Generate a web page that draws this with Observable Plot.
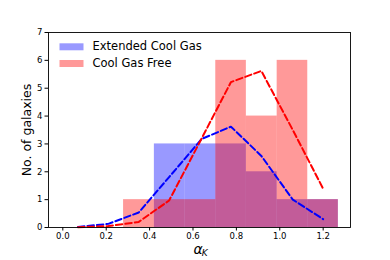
<!DOCTYPE html>
<html>
<head>
<meta charset="utf-8">
<script src="https://cdn.jsdelivr.net/npm/d3@7"></script>
<script src="https://cdn.jsdelivr.net/npm/@observablehq/plot@0.6"></script>
<style>
  html, body { margin: 0; padding: 0; background: #fff; }
  #chart svg { display: block; }
</style>
</head>
<body>
<div id="chart"></div>
<script>
// Histogram bin edges (alpha_K)
const binEdges = [0.28, 0.422, 0.563, 0.705, 0.846, 0.988, 1.129, 1.27];
// Counts per bin
const extendedCounts = [0, 3, 3, 3, 2, 1, 1];
const freeCounts = [1, 1, 1, 6, 4, 6, 1];
// Dashed curve sample points
const curveX = [0.07, 0.21, 0.35, 0.49, 0.64, 0.775, 0.915, 1.06, 1.2];
const extendedCurve = [0.02, 0.13, 0.54, 1.81, 3.18, 3.62, 2.57, 1.0, 0.3];
const freeCurve = [0.01, 0.05, 0.2, 0.97, 3.2, 5.22, 5.62, 3.5, 1.39];
// Tick values
const xTicks = [0, 0.2, 0.4, 0.6, 0.8, 1.0, 1.2];
const yTicks = [0, 1, 2, 3, 4, 5, 6, 7];
// Series labels and colours
const seriesNames = ["Extended Cool Gas", "Cool Gas Free"];
const seriesColors = ["#0000ff", "#ff0000"];

const bars = (counts) => counts
  .map((c, i) => ({x1: binEdges[i], x2: binEdges[i + 1], y: c}))
  .filter(d => d.y > 0);
const curve = (ys) => curveX.map((x, i) => ({x, y: ys[i]}));

const legendPatch = {
  draw(context) { context.rect(-12, -3.5, 24, 7); }
};

const font = "DejaVu Sans, Verdana, sans-serif";

const chart = Plot.plot({
  width: 390,
  height: 260,
  marginLeft: 48,
  marginRight: 40,
  marginTop: 32,
  marginBottom: 33,
  style: {fontFamily: font, fontSize: "8.5px", color: "#000", background: "#fff"},
  x: {domain: [-0.066, 1.326]},
  y: {domain: [0, 7]},
  marks: [
    Plot.rectY(bars(extendedCounts), {x1: "x1", x2: "x2", y: "y", fill: seriesColors[0], fillOpacity: 0.4, inset: 0}),
    Plot.rectY(bars(freeCounts), {x1: "x1", x2: "x2", y: "y", fill: seriesColors[1], fillOpacity: 0.4, inset: 0}),
    Plot.line(curve(extendedCurve), {x: "x", y: "y", stroke: seriesColors[0], strokeWidth: 2, strokeDasharray: "6.5,3"}),
    Plot.line(curve(freeCurve), {x: "x", y: "y", stroke: seriesColors[1], strokeWidth: 2, strokeDasharray: "6.5,3"}),
    Plot.axisX({ticks: xTicks, tickFormat: d3.format(".1f"), tickSize: 3.5, tickPadding: 2, label: null, fontSize: 8.5}),
    Plot.axisY({ticks: yTicks, tickFormat: d3.format("d"), tickSize: 3.5, tickPadding: 2.5, label: null, fontSize: 8.5}),
    Plot.frame({stroke: "#000", strokeWidth: 0.9}),
    // Axis labels
    Plot.text(["No. of galaxies"], {frameAnchor: "left", rotate: -90, dx: -22, textAnchor: "middle", lineAnchor: "middle", fontSize: 12.5, fill: "#000"}),
    Plot.text(["α"], {frameAnchor: "bottom", dx: -1.5, dy: 22, lineAnchor: "middle", fontSize: 14, fontStyle: "italic", fill: "#000"}),
    Plot.text(["K"], {frameAnchor: "bottom", dx: 5.3, dy: 25.5, lineAnchor: "middle", fontSize: 9, fontStyle: "italic", fill: "#000"}),
    // Legend
    Plot.dot([seriesNames[0]], {frameAnchor: "top-left", dx: 23, dy: 14.3, symbol: legendPatch, r: 1, fill: seriesColors[0], fillOpacity: 0.4, stroke: null}),
    Plot.dot([seriesNames[1]], {frameAnchor: "top-left", dx: 23, dy: 31, symbol: legendPatch, r: 1, fill: seriesColors[1], fillOpacity: 0.4, stroke: null}),
    Plot.text([seriesNames[0]], {frameAnchor: "top-left", dx: 44, dy: 14.3, textAnchor: "start", lineAnchor: "middle", fontSize: 11.5, fill: "#000"}),
    Plot.text([seriesNames[1]], {frameAnchor: "top-left", dx: 44, dy: 31, textAnchor: "start", lineAnchor: "middle", fontSize: 11.5, fill: "#000"})
  ]
});
document.getElementById("chart").appendChild(chart);
</script>
</body>
</html>
